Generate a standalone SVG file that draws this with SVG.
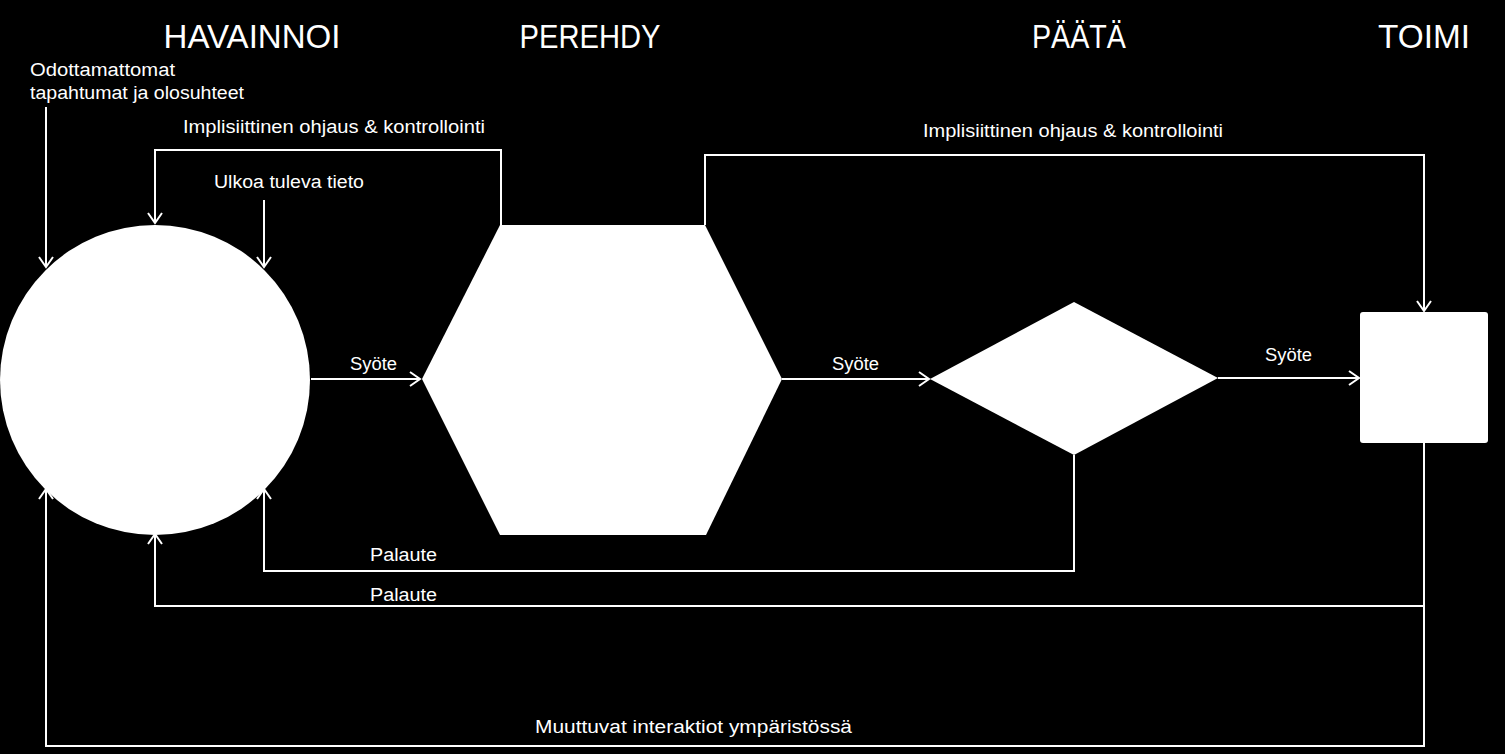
<svg xmlns="http://www.w3.org/2000/svg" width="1505" height="754" viewBox="0 0 1505 754">
<style>
text{font-family:"Liberation Sans",Arial,sans-serif;fill:#fff}
.t{font-size:34px}
.l{font-size:18px}
.c{fill:none;stroke:#fff;stroke-width:2}
.n{fill:#fff}
</style>
<defs>
<marker id="a" markerUnits="userSpaceOnUse" markerWidth="16" markerHeight="16" refX="11" refY="8" orient="auto">
<path d="M1,1 L11,8 L1,15" fill="none" stroke="#fff" stroke-width="2"/>
</marker>
</defs>
<rect width="1505" height="754" fill="#000"/>
<g id="titles">
<text class="t" x="252" y="48" text-anchor="middle" textLength="177" lengthAdjust="spacingAndGlyphs">HAVAINNOI</text>
<text class="t" x="590" y="48" text-anchor="middle" textLength="141" lengthAdjust="spacingAndGlyphs">PEREHDY</text>
<text class="t" x="1079" y="48" text-anchor="middle" textLength="94" lengthAdjust="spacingAndGlyphs">PÄÄTÄ</text>
<text class="t" x="1424" y="48" text-anchor="middle" textLength="92" lengthAdjust="spacingAndGlyphs">TOIMI</text>
</g>
<g id="havainnoi"><circle class="n" cx="155" cy="380" r="155"/></g>
<g id="perehdy"><polygon class="n" points="500,225 705,225 782,379 706,535 500,535 422,379"/></g>
<g id="paata"><polygon class="n" points="1074,302 1218,378 1074,455 930,379"/></g>
<g id="toimi"><rect class="n" x="1360" y="312" width="128" height="131" rx="3"/></g>
<g id="connectors">
<path class="c" d="M46,107 V267" marker-end="url(#a)"/>
<path class="c" d="M501,225 V150 H155 V223" marker-end="url(#a)"/>
<path class="c" d="M264,200 V267" marker-end="url(#a)"/>
<path class="c" d="M311,379 H420" marker-end="url(#a)"/>
<path class="c" d="M782,379 H929" marker-end="url(#a)"/>
<path class="c" d="M1218,378 H1359" marker-end="url(#a)"/>
<path class="c" d="M705,225 V155 H1424 V311" marker-end="url(#a)"/>
<path class="c" d="M1074,455 V571 H264 V489" marker-end="url(#a)"/>
<path class="c" d="M1424,443 V606 H155 V534" marker-end="url(#a)"/>
<path class="c" d="M1424,606 V746 H46 V489" marker-end="url(#a)"/>
</g>
<g id="labels">
<text class="l" x="30" y="76" textLength="145" lengthAdjust="spacingAndGlyphs">Odottamattomat</text>
<text class="l" x="30" y="99" textLength="214" lengthAdjust="spacingAndGlyphs">tapahtumat ja olosuhteet</text>
<text class="l" x="183" y="133" textLength="302" lengthAdjust="spacingAndGlyphs">Implisiittinen ohjaus &amp; kontrollointi</text>
<text class="l" x="214" y="188" textLength="150" lengthAdjust="spacingAndGlyphs">Ulkoa tuleva tieto</text>
<text class="l" x="350" y="370" textLength="47" lengthAdjust="spacingAndGlyphs">Syöte</text>
<text class="l" x="832" y="370" textLength="47" lengthAdjust="spacingAndGlyphs">Syöte</text>
<text class="l" x="1265" y="361" textLength="47" lengthAdjust="spacingAndGlyphs">Syöte</text>
<text class="l" x="923" y="137" textLength="300" lengthAdjust="spacingAndGlyphs">Implisiittinen ohjaus &amp; kontrollointi</text>
<text class="l" x="370" y="561" textLength="67" lengthAdjust="spacingAndGlyphs">Palaute</text>
<text class="l" x="370" y="601" textLength="67" lengthAdjust="spacingAndGlyphs">Palaute</text>
<text class="l" x="535" y="733" textLength="317" lengthAdjust="spacingAndGlyphs">Muuttuvat interaktiot ympäristössä</text>
</g>
</svg>
